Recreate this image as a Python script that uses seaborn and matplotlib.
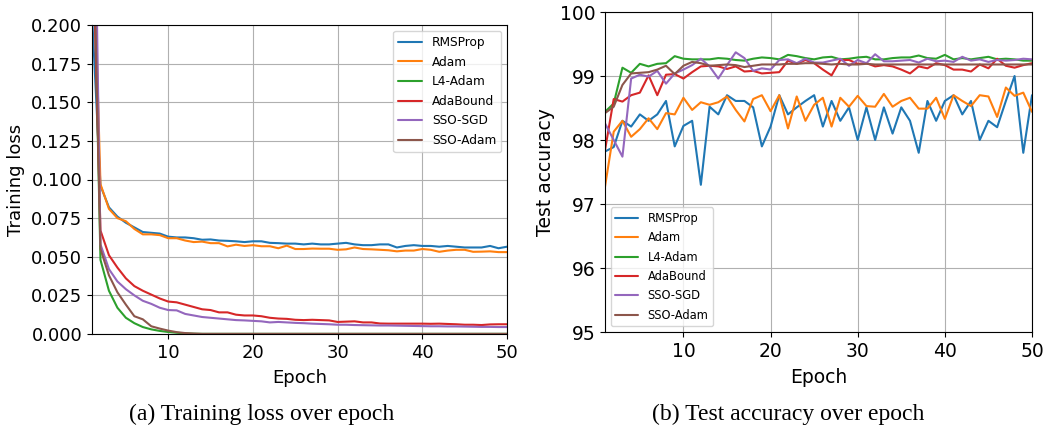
import numpy as np
import pandas as pd
import matplotlib
matplotlib.use("Agg")
import matplotlib.pyplot as plt
import seaborn as sns

epochs = list(range(1, 51))
optimizers = ["RMSProp", "Adam", "L4-Adam", "AdaBound", "SSO-SGD", "SSO-Adam"]

loss_rmsprop = [0.207, 0.096, 0.082, 0.076, 0.072, 0.069, 0.066, 0.0655, 0.065, 0.063,
                0.0625, 0.0625, 0.062, 0.061, 0.0612, 0.0605, 0.0603, 0.060, 0.0595, 0.060,
                0.060, 0.059, 0.0588, 0.0585, 0.0585, 0.058, 0.0585, 0.058, 0.058, 0.0585,
                0.059, 0.058, 0.0575, 0.0575, 0.058, 0.058, 0.056, 0.057, 0.0575, 0.057,
                0.057, 0.0565, 0.057, 0.0565, 0.056, 0.056, 0.056, 0.057, 0.0555, 0.0565]
loss_adam = [0.29, 0.097, 0.081, 0.075, 0.073, 0.068, 0.0645, 0.0645, 0.064, 0.062,
             0.062, 0.0605, 0.0595, 0.0598, 0.0588, 0.0588, 0.0567, 0.0578, 0.057, 0.0575,
             0.0568, 0.0568, 0.0555, 0.0572, 0.055, 0.055, 0.0553, 0.0552, 0.0552, 0.0545,
             0.0548, 0.056, 0.055, 0.0548, 0.0545, 0.0542, 0.0535, 0.054, 0.054, 0.055,
             0.0545, 0.0532, 0.054, 0.0545, 0.0545, 0.0532, 0.0533, 0.0535, 0.053, 0.053]
loss_l4adam = [0.30, 0.048, 0.028, 0.017, 0.0105, 0.007, 0.0045, 0.003, 0.002, 0.0013,
               0.0008, 0.0004, 0.0002, 0.0001, 0.0001, 0.0001, 0.0001, 0.0001, 0.0001, 0.0001,
               0.0001, 0.0001, 0.0001, 0.0001, 0.0001, 0.0001, 0.0001, 0.0001, 0.0001, 0.0001,
               0.0001, 0.0001, 0.0001, 0.0001, 0.0001, 0.0001, 0.0001, 0.0001, 0.0001, 0.0001,
               0.0001, 0.0001, 0.0001, 0.0001, 0.0001, 0.0001, 0.0001, 0.0001, 0.0001, 0.0001]
loss_adabound = [0.273, 0.067, 0.051, 0.043, 0.036, 0.031, 0.028, 0.0255, 0.023, 0.021,
                 0.0205, 0.019, 0.0175, 0.016, 0.0155, 0.014, 0.014, 0.0125, 0.012, 0.012,
                 0.0115, 0.0105, 0.010, 0.0098, 0.0092, 0.009, 0.0092, 0.009, 0.0088, 0.0078,
                 0.008, 0.0082, 0.0075, 0.0075, 0.0068, 0.0067, 0.0067, 0.0067, 0.0067, 0.0067,
                 0.0066, 0.0067, 0.0065, 0.0063, 0.006, 0.006, 0.0058, 0.0062, 0.0063, 0.0063]
loss_ssosgd = [0.41, 0.058, 0.042, 0.034, 0.029, 0.025, 0.0215, 0.0195, 0.017, 0.0155,
               0.0153, 0.013, 0.012, 0.011, 0.0105, 0.010, 0.0095, 0.009, 0.0088, 0.0085,
               0.0082, 0.0075, 0.0078, 0.0075, 0.0072, 0.007, 0.0067, 0.0065, 0.0063, 0.006,
               0.006, 0.0058, 0.0057, 0.0056, 0.0055, 0.0055, 0.0054, 0.0053, 0.0052, 0.0051,
               0.005, 0.005, 0.0049, 0.0049, 0.0048, 0.0047, 0.0046, 0.0046, 0.0045, 0.0045]
loss_ssoadam = [0.30, 0.055, 0.038, 0.027, 0.019, 0.0115, 0.0095, 0.005, 0.0035, 0.0022,
                0.0012, 0.0006, 0.0003, 0.0001, 0.0001, 0.0001, 0.0001, 0.0001, 0.0001, 0.0001,
                0.0001, 0.0001, 0.0001, 0.0001, 0.0001, 0.0001, 0.0001, 0.0001, 0.0001, 0.0001,
                0.0001, 0.0001, 0.0001, 0.0001, 0.0001, 0.0001, 0.0001, 0.0001, 0.0001, 0.0001,
                0.0001, 0.0001, 0.0001, 0.0001, 0.0001, 0.0001, 0.0001, 0.0001, 0.0001, 0.0001]

acc_rmsprop = [97.82, 97.89, 98.3, 98.21, 98.4, 98.3, 98.4, 98.61, 97.9, 98.22,
               98.3, 97.3, 98.52, 98.4, 98.7, 98.61, 98.61, 98.51, 97.9, 98.21,
               98.7, 98.4, 98.51, 98.61, 98.7, 98.21, 98.61, 98.3, 98.51, 98.0,
               98.51, 98.0, 98.51, 98.1, 98.51, 98.3, 97.8, 98.61, 98.3, 98.61,
               98.7, 98.4, 98.61, 98.0, 98.3, 98.2, 98.61, 99.0, 97.8, 98.7]
acc_adam = [97.27, 98.13, 98.3, 98.05, 98.17, 98.34, 98.17, 98.42, 98.4, 98.66,
            98.47, 98.59, 98.55, 98.59, 98.68, 98.47, 98.29, 98.64, 98.7, 98.45,
            98.7, 98.18, 98.68, 98.3, 98.55, 98.66, 98.21, 98.66, 98.52, 98.69,
            98.53, 98.52, 98.72, 98.52, 98.61, 98.66, 98.49, 98.49, 98.66, 98.33,
            98.7, 98.61, 98.53, 98.7, 98.68, 98.36, 98.82, 98.69, 98.74, 98.44]
acc_l4adam = [98.44, 98.57, 99.13, 99.05, 99.19, 99.15, 99.19, 99.2, 99.31, 99.27,
              99.26, 99.26, 99.26, 99.28, 99.27, 99.25, 99.24, 99.27, 99.29, 99.28,
              99.26, 99.33, 99.31, 99.28, 99.26, 99.29, 99.3, 99.26, 99.27, 99.29,
              99.3, 99.26, 99.26, 99.28, 99.29, 99.29, 99.32, 99.28, 99.27, 99.33,
              99.26, 99.28, 99.26, 99.28, 99.3, 99.26, 99.27, 99.26, 99.24, 99.24]
acc_adabound = [97.84, 98.64, 98.6, 98.7, 98.74, 99.01, 98.7, 99.02, 99.03, 98.96,
                99.06, 99.15, 99.16, 99.15, 99.11, 99.15, 99.07, 99.08, 99.04, 99.05,
                99.06, 99.24, 99.19, 99.25, 99.2, 99.1, 99.01, 99.25, 99.25, 99.19,
                99.2, 99.15, 99.17, 99.15, 99.1, 99.04, 99.15, 99.12, 99.2, 99.17,
                99.1, 99.1, 99.07, 99.18, 99.12, 99.27, 99.16, 99.13, 99.17, 99.2]
acc_ssosgd = [98.26, 98.0, 97.74, 98.96, 99.02, 98.99, 99.08, 98.88, 99.04, 99.1,
              99.17, 99.27, 99.15, 98.96, 99.17, 99.37, 99.28, 99.08, 99.12, 99.1,
              99.25, 99.26, 99.2, 99.27, 99.21, 99.21, 99.24, 99.27, 99.16, 99.25,
              99.2, 99.34, 99.23, 99.23, 99.24, 99.25, 99.21, 99.27, 99.23, 99.24,
              99.22, 99.3, 99.24, 99.26, 99.22, 99.25, 99.24, 99.25, 99.27, 99.26]
acc_ssoadam = [98.42, 98.52, 98.86, 99.04, 99.05, 99.06, 99.1, 99.16, 99.03, 99.16,
               99.22, 99.2, 99.16, 99.17, 99.18, 99.17, 99.14, 99.16, 99.18, 99.18,
               99.18, 99.19, 99.19, 99.2, 99.2, 99.19, 99.18, 99.19, 99.18, 99.18,
               99.19, 99.18, 99.18, 99.18, 99.18, 99.18, 99.18, 99.18, 99.18, 99.18,
               99.18, 99.18, 99.18, 99.18, 99.18, 99.18, 99.18, 99.18, 99.18, 99.18]

loss_tick_labels = ["0.000", "0.025", "0.050", "0.075", "0.100", "0.125", "0.150", "0.175", "0.200"]
acc_tick_labels = ["95", "96", "97", "98", "99", "100"]
epoch_tick_labels = ["10", "20", "30", "40", "50"]

loss_series = [loss_rmsprop, loss_adam, loss_l4adam, loss_adabound, loss_ssosgd, loss_ssoadam]
acc_series = [acc_rmsprop, acc_adam, acc_l4adam, acc_adabound, acc_ssosgd, acc_ssoadam]

def to_long(series, name):
    rows = []
    for opt, vals in zip(optimizers, series):
        for e, v in zip(epochs, vals):
            rows.append({"Epoch": e, "Optimizer": opt, name: v})
    return pd.DataFrame(rows)

df_loss = to_long(loss_series, "loss")
df_acc = to_long(acc_series, "acc")

sns.set_theme(style="ticks")
plt.rcParams.update({
    "font.family": ["DejaVu Sans"],
    "axes.grid": True,
    "grid.color": "#b0b0b0",
    "grid.linewidth": 0.8,
    "axes.edgecolor": "black",
    "axes.linewidth": 0.8,
    "xtick.color": "black",
    "ytick.color": "black",
    "xtick.major.size": 3.5,
    "ytick.major.size": 3.5,
    "xtick.major.width": 0.8,
    "ytick.major.width": 0.8,
    "axes.labelcolor": "black",
    "text.color": "black",
})

palette = sns.color_palette("tab10", 6)

fig = plt.figure(figsize=(10.45, 4.26), dpi=100)
W, H = 1045, 426
ax1 = fig.add_axes([92 / W, (H - 334) / H, (507 - 92) / W, (334 - 25) / H])
ax2 = fig.add_axes([605 / W, (H - 332) / H, (1032 - 605) / W, (332 - 12) / H])

sns.lineplot(data=df_loss, x="Epoch", y="loss", hue="Optimizer", hue_order=optimizers,
             palette=palette, linewidth=1.5, ax=ax1)
sns.lineplot(data=df_acc, x="Epoch", y="acc", hue="Optimizer", hue_order=optimizers,
             palette=palette, linewidth=1.5, ax=ax2)

ax1.set_xlim(1, 50)
ax1.set_ylim(0, 0.2)
ax1.set_yticks([float(t) for t in loss_tick_labels])
ax1.set_yticklabels(loss_tick_labels)
ax1.set_xticks([int(t) for t in epoch_tick_labels])
ax1.set_xticklabels(epoch_tick_labels)
ax1.set_xlabel("Epoch", fontsize=13, labelpad=5)
ax1.set_ylabel("Training loss", fontsize=13, labelpad=4)
ax1.tick_params(labelsize=13)
ax1.legend(loc="upper right", fontsize=8.7, frameon=True, fancybox=True, framealpha=0.8,
           edgecolor="#cccccc", labelspacing=0.55)

ax2.set_xlim(1, 50)
ax2.set_ylim(95, 100)
ax2.set_yticks([int(t) for t in acc_tick_labels])
ax2.set_yticklabels(acc_tick_labels)
ax2.set_xticks([int(t) for t in epoch_tick_labels])
ax2.set_xticklabels(epoch_tick_labels)
ax2.set_xlabel("Epoch", fontsize=13.5, labelpad=5)
ax2.set_ylabel("Test accuracy", fontsize=13.5, labelpad=3)
ax2.tick_params(labelsize=13.5)
ax2.legend(loc="lower left", fontsize=8.3, frameon=True, fancybox=True, framealpha=0.8,
           edgecolor="#cccccc", labelspacing=0.55)

for ax in (ax1, ax2):
    for s in ax.spines.values():
        s.set_visible(True)
        s.set_color("black")

fig.text(262 / W, 6 / H, "(a) Training loss over epoch", ha="center", va="baseline",
         fontsize=17, family=["Liberation Serif", "DejaVu Serif"])
fig.text(788 / W, 6 / H, "(b) Test accuracy over epoch", ha="center", va="baseline",
         fontsize=17, family=["Liberation Serif", "DejaVu Serif"])

fig.savefig("out.png", dpi=100)
